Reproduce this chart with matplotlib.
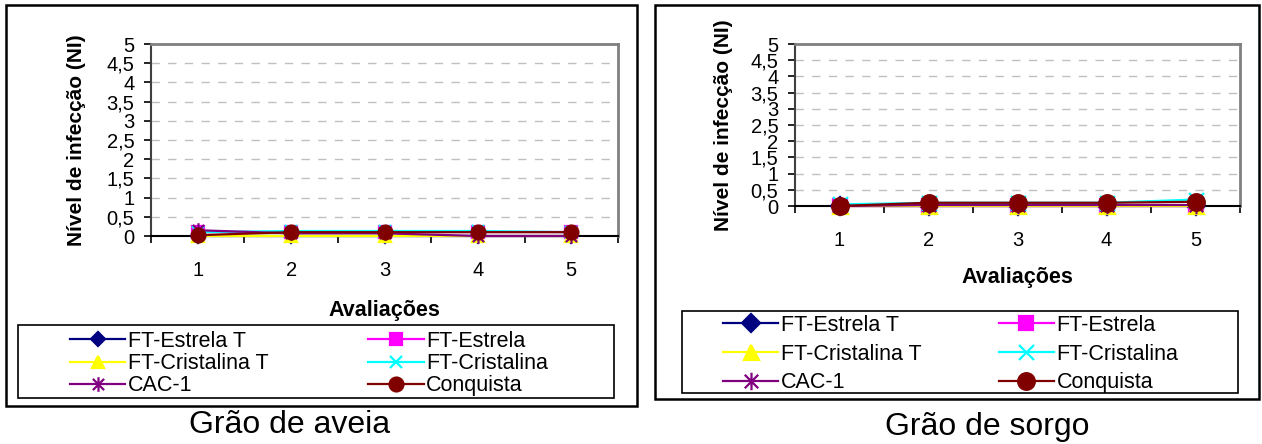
import matplotlib.pyplot as plt
from matplotlib.path import Path
from matplotlib.patches import Rectangle
from matplotlib.ticker import FixedLocator
import numpy as np

plt.rcParams['font.family'] = ['Liberation Sans', 'DejaVu Sans']

W, H = 1262, 444

avaliacoes = [1, 2, 3, 4, 5]
cultivares = ['FT-Estrela T', 'FT-Estrela', 'FT-Cristalina T',
              'FT-Cristalina', 'CAC-1', 'Conquista']

# grao de aveia
aveia_estrela_t = [0, 0, 0, 0, 0]
aveia_estrela = [0.1, 0.1, 0.1, 0.1, 0.1]
aveia_cristalina_t = [0, 0, 0, 0, 0]
aveia_cristalina = [0.1, 0.13, 0.13, 0.13, 0.1]
aveia_cac1 = [0.15, 0.07, 0.07, 0, 0]
aveia_conquista = [0.02, 0.1, 0.1, 0.1, 0.1]

# grao de sorgo
sorgo_estrela_t = [0, 0, 0, 0, 0]
sorgo_estrela = [0, 0, 0, 0, 0]
sorgo_cristalina_t = [0, 0, 0, 0, 0]
sorgo_cristalina = [0.05, 0.1, 0.1, 0.1, 0.2]
sorgo_cac1 = [0, 0.03, 0.03, 0.03, 0.03]
sorgo_conquista = [0, 0.1, 0.1, 0.1, 0.13]

# excel style star: an x with a vertical bar
star = Path([(-1, -1), (1, 1), (-1, 1), (1, -1), (0, -1.3), (0, 1.3)],
            [Path.MOVETO, Path.LINETO, Path.MOVETO, Path.LINETO,
             Path.MOVETO, Path.LINETO])

cores = ['#000080', '#ff00ff', '#ffff00', '#00ffff', '#800080', '#800000']
marcadores = ['D', 's', '^', 'x', star, 'o']
tamanhos = [0.75, 0.8, 0.9, 0.9, 1.05, 1.0]


def fx(px):
    return px / W


def fy(py):
    return 1 - py / H


def caixa(fig, x0, y0, x1, y1, lw=1.5):
    fig.add_artist(Rectangle((fx(x0), fy(y1)), fx(x1) - fx(x0), fy(y0) - fy(y1),
                             transform=fig.transFigure, fill=False,
                             edgecolor='black', linewidth=lw))


def painel(fig, box, series, ms, ylab_x, xlab_y, leg_xy, leg_spacing, leg_col):
    x0, y0, x1, y1 = box
    ax = fig.add_axes([fx(x0), fy(y1), fx(x1) - fx(x0), fy(y0) - fy(y1)])
    linhas = []
    for vals, cor, mk, t, nome in zip(series, cores, marcadores, tamanhos, cultivares):
        face = 'none' if mk in ('x', star) else cor
        l, = ax.plot(avaliacoes, vals, color=cor, lw=1.6, marker=mk,
                     markersize=ms * t, markerfacecolor=face,
                     markeredgecolor=cor, markeredgewidth=1.6, label=nome,
                     clip_on=False)
        linhas.append(l)
    for z, l in enumerate(linhas):
        l.set_zorder(3 + z)

    ax.set_xlim(0.5, 5.5)
    ax.set_ylim(0, 5)
    yt = np.arange(0, 5.01, 0.5)
    ax.set_yticks(yt)
    ax.set_yticklabels([('%g' % v).replace('.', ',') for v in yt], fontsize=14.5)
    ax.set_xticks(avaliacoes)
    ax.set_xticklabels([str(a) for a in avaliacoes], fontsize=14.5)
    ax.xaxis.set_minor_locator(FixedLocator(np.arange(0.5, 5.6, 1)))
    ax.tick_params(axis='x', which='major', length=0, pad=18)
    ax.tick_params(axis='x', which='minor', length=5, width=1.2, direction='out')
    ax.tick_params(axis='y', length=5, width=1.2, direction='out', pad=7)

    for v in yt[1:-1]:
        ax.axhline(v, color='#c0c0c0', lw=1, dashes=(6, 6), zorder=1)

    ax.spines['left'].set_color('#404040')
    ax.spines['left'].set_linewidth(1.5)
    ax.spines['bottom'].set_color('black')
    ax.spines['bottom'].set_linewidth(1.5)
    ax.spines['top'].set_color('#808080')
    ax.spines['top'].set_linewidth(2)
    ax.spines['right'].set_color('#808080')
    ax.spines['right'].set_linewidth(2)

    ax.set_ylabel('Nível de infecção (NI)', fontsize=15, fontweight='bold')
    ax.yaxis.set_label_coords(ylab_x, 0.5)
    ax.set_xlabel('Avaliações', fontsize=15.5, fontweight='bold')
    ax.xaxis.set_label_coords(0.5, xlab_y)

    # legend filled row by row: two columns, three rows
    ordem = [0, 2, 4, 1, 3, 5]
    fig.legend([linhas[i] for i in ordem], [cultivares[i] for i in ordem],
               loc='upper left',
               bbox_to_anchor=(fx(leg_xy[0]), fy(leg_xy[1])),
               bbox_transform=fig.transFigure, ncol=2, frameon=False,
               fontsize=15.5, borderpad=0, borderaxespad=0,
               handlelength=2.56, handletextpad=0.12,
               columnspacing=leg_col, labelspacing=leg_spacing)
    return ax


fig = plt.figure(figsize=(W / 100, H / 100), dpi=100)
fig.patch.set_facecolor('white')

# grao de aveia
caixa(fig, 6, 5, 637, 406, lw=1.8)
caixa(fig, 18, 325, 614, 398, lw=1.2)
painel(fig, (151, 44, 618, 236),
       [aveia_estrela_t, aveia_estrela, aveia_cristalina_t,
        aveia_cristalina, aveia_cac1, aveia_conquista],
       ms=10, ylab_x=-0.14, xlab_y=-0.333, leg_xy=(70, 331),
       leg_spacing=0.05, leg_col=4.65)
fig.text(fx(290), fy(425), 'Grão de aveia', fontsize=23, ha='center', va='center')

# grao de sorgo
caixa(fig, 655, 5, 1259, 399, lw=1.8)
caixa(fig, 682, 311, 1238, 393, lw=1.2)
painel(fig, (795, 44, 1240, 206),
       [sorgo_estrela_t, sorgo_estrela, sorgo_cristalina_t,
        sorgo_cristalina, sorgo_cac1, sorgo_conquista],
       ms=12, ylab_x=-0.14, xlab_y=-0.377, leg_xy=(723, 315),
       leg_spacing=0.35, leg_col=3.6)
fig.text(fx(987), fy(427), 'Grão de sorgo', fontsize=23, ha='center', va='center')

fig.savefig('out.png', dpi=100, facecolor='white')
